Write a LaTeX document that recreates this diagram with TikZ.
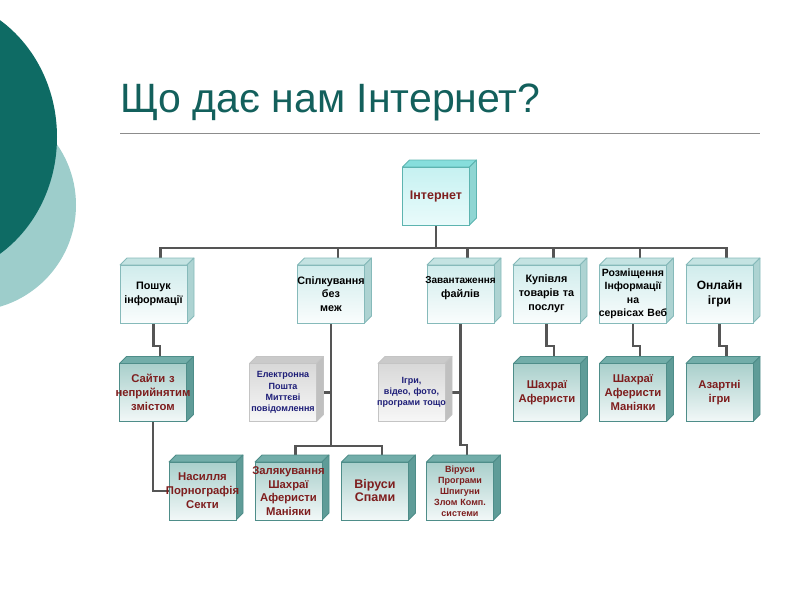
\documentclass[tikz,border=0pt]{standalone}
\usepackage{fontspec}
\setmainfont{Liberation Sans}
\usetikzlibrary{calc}
\pgfdeclarelayer{bg}
\pgfdeclarelayer{faces}
\pgfsetlayers{bg,faces,main}
\definecolor{darkteal}{HTML}{0E6B64}
\definecolor{lightteal}{HTML}{9DCDCB}
\definecolor{titlecol}{HTML}{13605C}
\definecolor{rulecol}{HTML}{8C8C8C}
\definecolor{conncol}{HTML}{555555}
\definecolor{redtext}{HTML}{7E1E1E}
\definecolor{navytext}{HTML}{1E1E78}
\definecolor{intfronttop}{HTML}{C6F1F1}
\definecolor{intfrontbot}{HTML}{E9FBFB}
\definecolor{inttop}{HTML}{86DEDC}
\definecolor{intside}{HTML}{8FD6D3}
\definecolor{intborder}{HTML}{5DB4B0}
\definecolor{lonefronttop}{HTML}{D0ECEC}
\definecolor{lonefrontbot}{HTML}{FAFDFD}
\definecolor{lonetop}{HTML}{C4E3E2}
\definecolor{loneside}{HTML}{ADD3D2}
\definecolor{loneborder}{HTML}{86BABA}
\definecolor{redfronttop}{HTML}{A9CFCB}
\definecolor{redfrontbot}{HTML}{F2F8F8}
\definecolor{redtop}{HTML}{72ADA9}
\definecolor{redside}{HTML}{5F9C98}
\definecolor{redborder}{HTML}{4E8D89}
\definecolor{greyfronttop}{HTML}{D8D8D8}
\definecolor{greyfrontbot}{HTML}{F7F7F7}
\definecolor{greytop}{HTML}{CACACA}
\definecolor{greyside}{HTML}{C0C0C0}
\definecolor{greyborder}{HTML}{C4C4C4}
\newcommand\cl[1]{\makebox[67pt][c]{#1}}
\newcommand\cubefaces[4]{%
  \filldraw[fill=#2, draw=#4, line width=0.8pt, line join=round]
    (#1.north west) -- ++(7,-7) -- ($(#1.north east)+(7,-7)$) -- (#1.north east) -- cycle;
  \filldraw[fill=#3, draw=#4, line width=0.8pt, line join=round]
    (#1.north east) -- ++(7,-7) -- ($(#1.south east)+(7,-7)$) -- (#1.south east) -- cycle;
}
\tikzset{
  conn/.style={draw=conncol, line width=2.2pt},
  cubebase/.style={rectangle, minimum width=67pt, minimum height=58pt,
    inner xsep=0pt, inner ysep=0pt, outer sep=0pt, text width=67pt,
    align=center, line width=0.8pt},
  intbox/.style={cubebase, draw=intborder, top color=intfronttop,
    bottom color=intfrontbot, text=redtext,
    font=\bfseries\fontsize{12.5}{15}\selectfont},
  onebox/.style={cubebase, draw=loneborder, top color=lonefronttop,
    bottom color=lonefrontbot, text=black,
    font=\bfseries\fontsize{10.8}{13.8}\selectfont},
  redbox/.style={cubebase, draw=redborder, top color=redfronttop,
    bottom color=redfrontbot, text=redtext,
    font=\bfseries\fontsize{11.3}{14}\selectfont},
  greybox/.style={cubebase, draw=greyborder, top color=greyfronttop,
    bottom color=greyfrontbot, text=navytext,
    font=\bfseries\fontsize{9}{11.3}\selectfont},
}
\begin{document}
\begin{tikzpicture}[x=1pt, y=-1pt]
\useasboundingbox (0,0) rectangle (800,600);
\begin{pgfonlayer}{bg}
  \begin{scope}
    \clip (0,0) rectangle (800,600);
    \fill[lightteal] (-30,205) circle[radius=106];
    \fill[darkteal] (-70,137) ellipse[x radius=127, y radius=140];
  \end{scope}
\end{pgfonlayer}

\node[anchor=base west, inner sep=0pt, text=titlecol,
  font=\fontsize{41}{48}\selectfont] (title) at (120,112) {Що дає нам Інтернет?};
\coordinate (rulel) at (120,133);
\coordinate (ruler) at (760,133);
\draw[rulecol, line width=1pt] (rulel) -- (ruler);

% level 0
\node[intbox] (int) at (436,196) {Інтернет};
% level 1
\node[onebox] (poshuk) at (153.5,294) {Пошук\\інформації};
\node[onebox] (spilk) at (331,294) {\cl{Спілкування}\\без\\меж};
\node[onebox] (zav) at (460.5,294) {\cl{\fontsize{10}{13.8}\selectfont Завантаження}\\файлів\\\mbox{}};
\node[onebox] (kup) at (546.5,294) {Купівля\\товарів та\\послуг};
\node[onebox, font=\bfseries\fontsize{10.5}{13.5}\selectfont] (rozm) at (633,294) {\cl{Розміщення}\\Інформації\\на\\\cl{сервісах Веб}};
\node[onebox, font=\bfseries\fontsize{12}{15}\selectfont] (onl) at (719.5,294) {Онлайн\\ігри};
% level 2
\node[redbox] (saity) at (153,392.5) {Сайти з\\\cl{неприйнятим}\\змістом};
\node[greybox] (email) at (283,392.5) {Електронна\\Пошта\\Миттєві\\повідомлення};
\node[greybox] (igry) at (411.5,392.5) {Ігри,\\відео, фото,\\\cl{програми тощо}};
\node[redbox] (shakh1) at (547,392.5) {Шахраї\\Аферисти};
\node[redbox] (shakh2) at (633,392.5) {Шахраї\\Аферисти\\Маніяки};
\node[redbox] (azart) at (719.5,392.5) {Азартні\\ігри};
% level 3
\node[redbox] (nasyl) at (202.5,491) {Насилля\\\cl{Порнографія}\\Секти};
\node[redbox, font=\bfseries\fontsize{11.3}{13.5}\selectfont] (zal) at (288.5,491) {\cl{Залякування}\\Шахраї\\Аферисти\\Маніяки};
\node[redbox, font=\bfseries\fontsize{12.5}{13}\selectfont] (virsp) at (375,491) {Віруси\\Спами};
\node[redbox, font=\bfseries\fontsize{9}{11}\selectfont] (virpr) at (460,491) {Віруси\\Програми\\Шпигуни\\Злом Комп.\\системи};

\begin{pgfonlayer}{faces}
  \cubefaces{int}{inttop}{intside}{intborder}
  \foreach \n in {poshuk,spilk,zav,kup,rozm,onl}{\cubefaces{\n}{lonetop}{loneside}{loneborder}}
  \foreach \n in {saity,shakh1,shakh2,azart,nasyl,zal,virsp,virpr}{\cubefaces{\n}{redtop}{redside}{redborder}}
  \foreach \n in {email,igry}{\cubefaces{\n}{greytop}{greyside}{greyborder}}
\end{pgfonlayer}

\begin{pgfonlayer}{bg}
  \coordinate (busy) at (0,248);
  \draw[conn] (int.south) -- (int.south |- busy);
  \foreach \n in {poshuk,spilk,zav,kup,rozm,onl}{
    \draw[conn] ($(\n.north)+(7,-7)$) |- (int.south |- busy);
  }
  \foreach \a/\b in {poshuk/saity,kup/shakh1,rozm/shakh2,onl/azart}{
    \draw[conn] (\a.south) -- ++(0,23) -| ($(\b.north)+(7,-7)$);
  }
  \draw[conn] (saity.south) |- (nasyl.west);
  \draw[conn] (spilk.south) -- ++(0,123);
  \draw[conn] ($(zal.north)+(7,-7)$) -- ++(0,-9) -| ($(virsp.north)+(7,-7)$);
  \draw[conn] (email.east) -- (email.east -| spilk.south);
  \draw[conn] (zav.south) -- ++(0,122) -| ($(virpr.north)+(7,-7)$);
  \draw[conn] (igry.east) -- (igry.east -| zav.south);
\end{pgfonlayer}
\end{tikzpicture}
\end{document}
